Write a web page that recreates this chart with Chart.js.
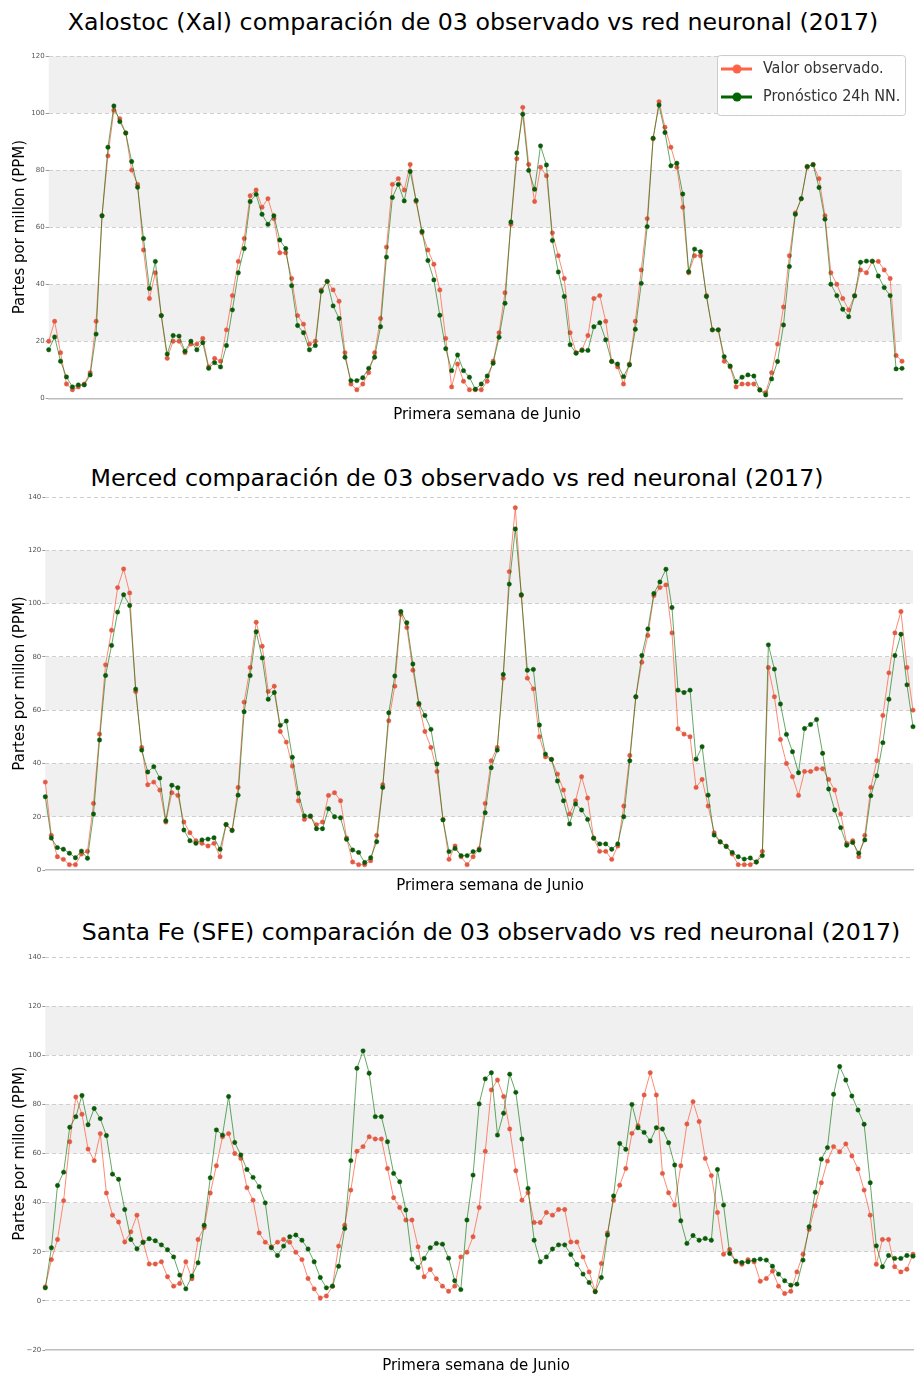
<!DOCTYPE html>
<html>
<head>
<meta charset="utf-8">
<script src="https://cdn.jsdelivr.net/npm/chart.js@4.4.0/dist/chart.umd.min.js"></script>
<style>
body { margin: 0; background: #fff; }
#pagina { position: relative; width: 918px; height: 1374px; overflow: hidden; font-family: "DejaVu Sans", sans-serif; }
.titulo { position: absolute; white-space: nowrap; transform: translateX(-50%); font-size: 23.7px; line-height: 28px; color: #000; }
.xlab { position: absolute; white-space: nowrap; transform: translateX(-50%); font-size: 15px; line-height: 18px; color: #000; }
canvas { position: absolute; left: 0; }
</style>
</head>
<body>
<div id="pagina">
  <div class="titulo" style="left:473px; top:8px;">Xalostoc (Xal) comparación de 03 observado vs red neuronal (2017)</div>
  <canvas id="chartXal" width="918" height="381" style="top:44px"></canvas>
  <div class="xlab" style="left:487px; top:405px;">Primera semana de Junio</div>

  <div class="titulo" style="left:457px; top:464px;">Merced comparación de 03 observado vs red neuronal (2017)</div>
  <canvas id="chartMer" width="918" height="411" style="top:485px"></canvas>
  <div class="xlab" style="left:490px; top:876px;">Primera semana de Junio</div>

  <div class="titulo" style="left:491px; top:918px;">Santa Fe (SFE) comparación de 03 observado vs red neuronal (2017)</div>
  <canvas id="chartSfe" width="918" height="429" style="top:945px"></canvas>
  <div class="xlab" style="left:476px; top:1356px;">Primera semana de Junio</div>
</div>
<script>
// --- DATOS ---
const xalObservado = [20,27,16,5,3,4,5,9,27,64,85,101,98,93,80,75,52,35,44,29,14,20,20,16,19,19,21,11,14,13,24,36,48,56,71,73,67,70,63,51,51,42,29,26,19,20,
  38,41,38,34,16,5,3,5,9,16,28,53,75,77,73,82,69,58,52,47,38,21,4,12,6,3,3,3,6,13,23,37,61,84,102,82,69,81,78,58,50,42,23,16,17,22,35,36,27,13,11,
  5,12,27,45,63,91,104,95,88,81,67,44,50,50,36,24,24,13,11,4,5,5,5,3,2,9,19,32,50,65,70,81,82,77,64,44,40,35,31,36,45,44,48,48,45,42,15,13];
const xalPronostico = [17,21.5,13,7.5,4,4.7,4.7,8.2,22.5,64,88,102.5,97,93,83,74,56,38.5,48,29,15.5,22,21.8,16.5,20,17,19.5,10.5,12.5,11,18.5,31,44,52.5,69,71.5,64.5,61,64,55.5,52.5,39.5,25.5,23,17,18.5,
  37.5,41,32.4,28,14.4,6.2,6.2,7.2,10.5,14.4,25.1,49.5,70.4,75,69.2,79.5,69.4,58.5,48.3,41.5,29.1,17.4,9.7,15.2,9.7,7.4,3.2,5,7.8,12.3,21.4,33.3,61.8,86,99.6,79.9,73.3,88.5,81.8,55.3,44.3,35.7,18.8,15.8,16.8,16.8,25.1,26.5,20.5,12.9,12,
  7.6,11.7,24.2,40.3,60.2,91.2,102.8,93.2,81.5,82.4,71.6,44.4,52.3,51.4,35.7,24,24,14.6,11.3,5.8,7.4,8.2,7.8,2.9,1.2,6.8,12.9,25.7,46.2,64.5,70,81.3,81.9,73.9,62.8,40,36,31.2,28.6,35.9,47.7,48.1,48.1,42.9,38.8,36,10.3,10.5];

const merObservado = [33,13,5,4,2,2,6,7,25,51,77,90,106,113,104,67,46,32,33,30,18,29,28,18,14,11,10,9,10,5,17,15,31,63,76,93,84,67,69,52,48,39,26,19,20,17,
  18,28,29,26,12,3,2,2,3.5,13,32,56,69,96,91,75,62,52,46,37,19,4,9,5,2,5,8,25,41,46,72,112,136,103,72,68,50,42.5,41.5,36,30,21,26,35,27,12,7,7,4,9,
  24,43,65,78,88,103,106,107,89,53,51,50,31,34,24,14,10.5,9,6,2,2,2,3,7,76,65,49,40,35,28,37,37,38,38,34,30,21,10,11,5,13,31,41,58,74,89,97,76,60];
const merPronostico = [27.5,12,8.4,7.8,6.3,4.6,7.1,4.4,21,48.8,73,84.3,96.8,103.3,99.3,67.9,45,36.8,38.8,34.5,18.5,31.8,30.9,15,11,10,11.3,11.6,12.1,7.8,17.1,14.8,28.1,59.4,73,89.4,79.6,64.1,66.6,54.3,55.9,42.3,28.8,20.3,20.3,15.5,
  15.5,23,20,19.6,11.5,7.5,6.6,2.8,4.6,10.6,31,59,72.8,97,92.8,77.3,62.5,58,52.8,39.8,18.8,6.9,8.1,5.4,5.4,6.9,7.5,21.5,38.4,45,73.4,107.3,128,103.3,75,75.3,54.4,43.5,41.5,33.4,26,17.3,24.8,22.5,19,11.9,9.8,9.8,7.8,9.8,
  20,41,65,80.5,90.5,103.8,108.1,112.9,98.5,67.5,66.6,67.5,41.6,46.3,28.1,13.1,10.6,8.8,6.6,5,4.1,4.5,3,5.4,84.5,75.4,62.3,50.9,44.4,36.5,53.1,54.6,56.5,43.8,30.4,22.5,15.9,9.3,10.3,6.3,11.3,27.9,35.4,47.8,64.1,80.5,88.5,69.5,53.8];

const sfeObservado = [5.7,16.8,25,40.8,64.8,83,76,61.8,57.1,68.1,43.9,34.9,32.1,24,28.1,34.9,24,15,15,15.9,9.8,6,7.1,15.9,9,25,29.9,43.9,55,66.8,68.1,60,58,46.1,41,27.7,23.9,22,23.9,25,23.9,19.8,16.8,9.1,4.9,1.2,
  2,6,22.3,30.8,45.1,60.9,62.8,66.8,65.9,65.9,53.9,42,38,32.9,32.9,22,9.8,12.8,9,6,3.9,6,17.9,19.8,26.1,38,60.9,85.9,89.9,83.2,70,53,41,44,31.9,31.9,36,34.9,37.2,37.2,24,24,17.9,11.8,3.9,15.2,27.7,41,47.1,
  53.9,68.2,71.3,83.8,92.9,83.8,51.9,44,39,55,72,81.1,73,58,51,36,19,20.9,15.9,14.9,16.8,15.9,8,9.1,12.1,6,3,3.9,11.8,19,29.1,38.7,48.1,56.9,62.8,60.7,63.9,59,53.7,45.1,34.9,14.9,25,25,13.9,11.8,12.9,19];
const sfePronostico = [5.3,21.6,47,52.4,70.7,75,83.6,71.7,78.3,74.2,67.3,51.6,49.5,37.2,25,21.2,23.8,25.3,24.5,22.8,20.8,17.9,10.5,4.9,10.1,15.5,30.8,50.1,69.6,67.5,83.2,64.5,59.4,53.5,50.3,46.5,39.9,21.6,18.5,22.3,26.1,26.8,24.7,21.1,15.9,9.5,
  5.3,6,14.1,29.5,57.1,94.7,101.8,92.7,75,75,64.8,51.9,48.5,37,17,13.6,17.3,21.6,23.4,23.1,17.4,8.2,4.6,32.9,51.2,80.2,90.4,92.9,67.5,76.4,92.3,84.9,65.9,45.8,24.7,15.9,17.9,21.1,22.8,22.8,18.9,14.8,10.9,7.5,3.7,9.5,26.8,42.7,64.1,
  61.7,80,70.5,68.6,65.1,70.5,70,64.4,55.3,32.6,23.4,26.6,24.7,25.4,24.7,53.5,39,19.3,16.2,15.6,15.9,16.6,17,16.6,14.1,10.9,8.2,6.4,6.8,16.6,30.2,44.2,57.7,62.4,84.1,95.4,89.9,83.4,77.7,71.9,48.1,22.4,13.9,18.5,17.3,17.3,18.5,18.2];

const ticksXal = [0, 20, 40, 60, 80, 100, 120];
const ticksMer = [0, 20, 40, 60, 80, 100, 120, 140];
const ticksSfe = [-20, 0, 20, 40, 60, 80, 100, 120, 140];
const bandas = [[20, 40], [60, 80], [100, 120]];
const nombres = ['Valor observado.', 'Pronóstico 24h NN.'];

// --- PLUGINS ---
const bandasPlugin = {
    id: 'bandas',
    beforeDraw(chart) {
        const { ctx, chartArea: a, scales: { y } } = chart;
        ctx.save();
        ctx.fillStyle = '#f0f0f0';
        bandas.forEach(([lo, hi]) => {
            const y1 = y.getPixelForValue(hi), y2 = y.getPixelForValue(lo);
            ctx.fillRect(a.left, y1, a.right - a.left, y2 - y1);
        });
        ctx.restore();
    }
};

const leyendaPlugin = {
    id: 'leyendaInterna',
    afterDraw(chart, args, o) {
        if (!o.mostrar) return;
        const ctx = chart.ctx;
        const x0 = 717, y0 = 11, w = 188, h = 60;
        ctx.save();
        ctx.fillStyle = 'rgba(255,255,255,0.9)';
        ctx.strokeStyle = '#cccccc';
        ctx.lineWidth = 1;
        ctx.beginPath();
        ctx.roundRect(x0 + 0.5, y0 + 0.5, w, h, 3);
        ctx.fill();
        ctx.stroke();
        chart.data.datasets.forEach((ds, i) => {
            const yy = y0 + 14 + i * 28;
            ctx.strokeStyle = ds.leyendaColor;
            ctx.lineWidth = 3;
            ctx.beginPath();
            ctx.moveTo(721, yy);
            ctx.lineTo(752, yy);
            ctx.stroke();
            ctx.fillStyle = ds.leyendaColor;
            ctx.beginPath();
            ctx.arc(737, yy, 4.5, 0, Math.PI * 2);
            ctx.fill();
            ctx.fillStyle = '#333';
            ctx.font = '16px "DejaVu Sans Condensed", "Liberation Sans Narrow", sans-serif';
            ctx.textBaseline = 'middle';
            ctx.fillText(ds.label, 763, yy);
        });
        ctx.restore();
    }
};

// --- GRAFICA ---
function crearGrafica(id, obs, pred, ticks, cfg) {
    const horas = obs.map((_, i) => i);
    const yMin = ticks[0], yMax = ticks[ticks.length - 1];
    return new Chart(document.getElementById(id), {
        type: 'line',
        data: {
            labels: horas,
            datasets: [{
                label: nombres[0],
                data: obs,
                borderColor: 'rgba(255,99,71,0.75)',
                borderWidth: 1,
                pointRadius: 2.2,
                pointBackgroundColor: '#e35a44',
                pointBorderColor: 'rgba(227,90,68,0.45)',
                pointBorderWidth: 1,
                leyendaColor: '#ff6347',
                order: 2
            }, {
                label: nombres[1],
                data: pred,
                borderColor: 'rgba(0,110,0,0.6)',
                borderWidth: 1,
                pointRadius: 2.2,
                pointBackgroundColor: '#0a5a0a',
                pointBorderColor: 'rgba(10,90,10,0.45)',
                pointBorderWidth: 1,
                leyendaColor: '#006400',
                order: 1
            }]
        },
        options: {
            responsive: false,
            animation: false,
            layout: { padding: { top: 12, right: cfg.right, left: 0, bottom: 0 } },
            plugins: {
                legend: { display: false },
                tooltip: { enabled: false },
                leyendaInterna: { mostrar: cfg.leyenda }
            },
            scales: {
                x: {
                    ticks: { display: false },
                    grid: { display: true, color: 'rgba(0,0,0,0)', drawTicks: false },
                    border: { display: true, color: '#bdbdbd', width: 1.5 },
                    afterFit: s => { s.height = cfg.xAlto; }
                },
                y: {
                    min: yMin,
                    max: yMax,
                    afterBuildTicks: s => { s.ticks = ticks.map(v => ({ value: v })); },
                    ticks: {
                        font: { family: 'DejaVu Sans', size: 7 },
                        color: '#555',
                        padding: 1,
                        callback: v => (v < 0 ? '\u2212' + Math.abs(v) : String(v))
                    },
                    grid: {
                        color: c => (c.tick && c.tick.value === yMin ? 'rgba(0,0,0,0)' : '#cfcfcf'),
                        lineWidth: 1,
                        tickLength: 3,
                        tickColor: '#999',
                        tickBorderDash: []
                    },
                    border: { display: false, dash: [4, 3] },
                    title: {
                        display: true,
                        text: 'Partes por millon (PPM)',
                        font: { family: 'DejaVu Sans', size: 15 },
                        color: '#000',
                        padding: { top: 11, bottom: 0 }
                    },
                    afterFit: s => { s.width = cfg.left; }
                }
            }
        },
        plugins: [bandasPlugin, leyendaPlugin]
    });
}

crearGrafica('chartXal', xalObservado, xalPronostico, ticksXal, { left: 48.7, right: 16, xAlto: 26.7, leyenda: true });
crearGrafica('chartMer', merObservado, merPronostico, ticksMer, { left: 45.3, right: 5, xAlto: 26, leyenda: false });
crearGrafica('chartSfe', sfeObservado, sfePronostico, ticksSfe, { left: 45.3, right: 2.5, xAlto: 24, leyenda: false });
</script>
</body>
</html>
